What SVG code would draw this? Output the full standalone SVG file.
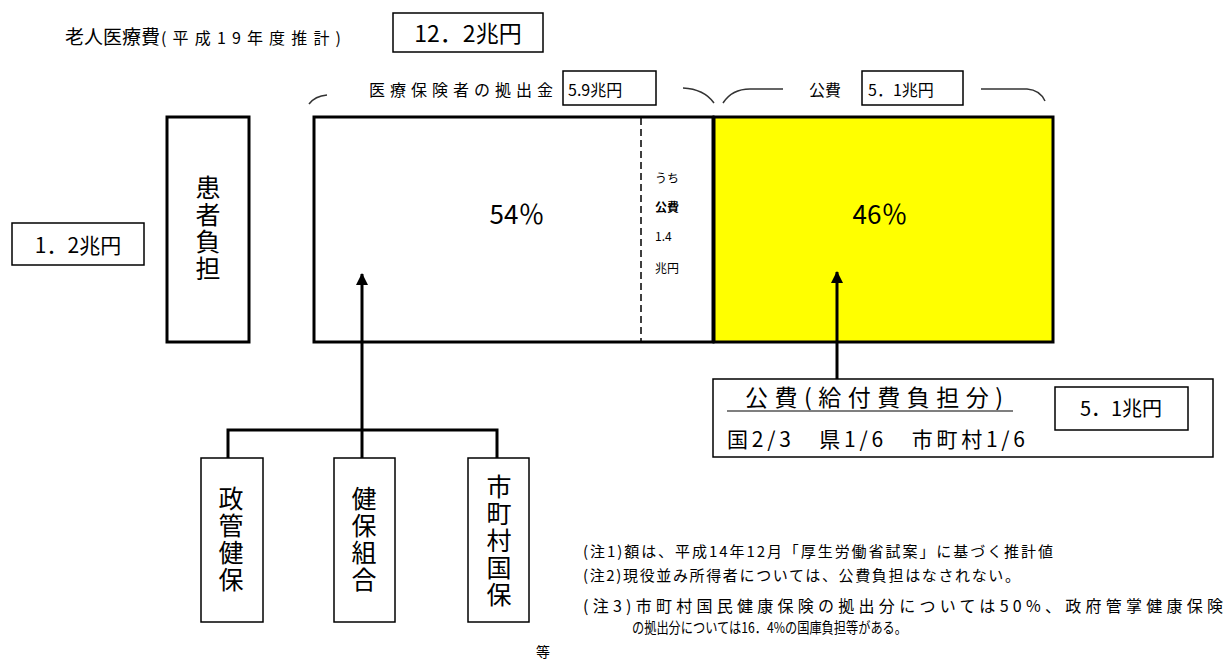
<svg xmlns="http://www.w3.org/2000/svg" width="1230" height="661" viewBox="0 0 1230 661">
<defs>
<style>
text{font-family:"Noto Sans CJK JP","Liberation Sans",sans-serif;fill:#000}
.box{fill:#fff;stroke:#000;stroke-width:1.5}
.thick{fill:#fff;stroke:#000;stroke-width:3}
.arc{fill:none;stroke:#333;stroke-width:1.5}
.conn{fill:none;stroke:#000;stroke-width:3}
.vt{font-size:25px;writing-mode:vertical-rl;letter-spacing:2px}
.note{font-size:15px}
</style>
<marker id="ah" markerWidth="12" markerHeight="12" refX="11" refY="6" orient="auto" markerUnits="userSpaceOnUse" viewBox="0 0 12 12">
<path d="M0,0 L12,6 L0,12 Z" fill="#000"/>
</marker>
</defs>
<rect width="1230" height="661" fill="#fff"/>

<g id="title">
<text x="65" y="44" font-size="19">老人医療費</text>
<text x="161" y="44" font-size="16" textLength="180">(平成19年度推計)</text>
</g>
<g id="total">
<rect class="box" x="393" y="13" width="150" height="39"/>
<text x="468" y="42" font-size="23" text-anchor="middle">12．2兆円</text>
</g>

<g id="brackets">
<path class="arc" d="M309,104 Q315,96 327,95"/>
<path class="arc" d="M683,88 Q704,89 714,103"/>
<path class="arc" d="M723,103 Q732,89 750,89 L783,89"/>
<path class="arc" d="M981,89 L1027,89 Q1040,90 1045,101"/>
</g>

<g id="insurer-label">
<text x="369" y="96" font-size="16" textLength="184">医療保険者の拠出金</text>
<rect class="box" x="563" y="71" width="93" height="34"/>
<text x="568" y="96" font-size="16">5.9兆円</text>
</g>
<g id="public-label">
<text x="809" y="96" font-size="16">公費</text>
<rect class="box" x="862" y="71" width="101" height="34"/>
<text x="868" y="96" font-size="16">5．1兆円</text>
</g>

<g id="patient">
<rect class="thick" x="167" y="117" width="82" height="225"/>
<text class="vt" x="208" y="175">患者負担</text>
</g>
<g id="patient-amount">
<rect class="box" x="12" y="223" width="132" height="42"/>
<text x="78" y="253" font-size="21" text-anchor="middle">1．2兆円</text>
</g>

<g id="insurer-part">
<rect class="thick" x="314" y="117" width="399" height="225"/>
<line x1="641" y1="118" x2="641" y2="341" stroke="#000" stroke-width="1.5" stroke-dasharray="7,4"/>
<text x="517" y="224" font-size="26" text-anchor="middle">54％</text>
<text x="655" y="183" font-size="12">うち</text>
<text x="655" y="212" font-size="12" font-weight="bold">公費</text>
<text x="655" y="241" font-size="12">1.4</text>
<text x="655" y="273" font-size="12">兆円</text>
</g>
<g id="public-part">
<rect x="714" y="117" width="339" height="225" fill="#ffff00" stroke="#000" stroke-width="3"/>
<text x="880" y="224" font-size="26" text-anchor="middle">46％</text>
</g>

<g id="connectors">
<line class="conn" x1="362" y1="430" x2="362" y2="274" marker-end="url(#ah)"/>
<polyline class="conn" points="228,458 228,430 497,430 497,458"/>
<line class="conn" x1="362" y1="430" x2="362" y2="458"/>
<line class="conn" x1="837" y1="379" x2="837" y2="272" marker-end="url(#ah)"/>
</g>

<g id="seikan">
<rect class="box" x="201" y="458" width="62" height="164"/>
<text class="vt" x="231" y="486">政管健保</text>
</g>
<g id="kenpo">
<rect class="box" x="334" y="458" width="61" height="164"/>
<text class="vt" x="364" y="486">健保組合</text>
</g>
<g id="kokuho">
<rect class="box" x="468" y="458" width="61" height="164"/>
<text class="vt" x="499" y="474">市町村国保</text>
</g>
<g id="etc">
<text x="543" y="657" font-size="14" text-anchor="middle">等</text>
</g>

<g id="public-detail">
<rect class="box" x="713" y="379" width="500" height="78"/>
<text x="745" y="406" font-size="23" textLength="258">公費(給付費負担分)</text>
<line x1="727" y1="411" x2="1013" y2="411" stroke="#000" stroke-width="1.2"/>
<text x="727" y="447" font-size="21" textLength="298">国2/3　県1/6　市町村1/6</text>
<rect class="box" x="1055" y="387" width="133" height="43"/>
<text x="1121" y="416" font-size="20" text-anchor="middle">5．1兆円</text>
</g>

<g id="notes">
<text class="note" x="583" y="557" textLength="470">(注1)額は、平成14年12月「厚生労働省試案」に基づく推計値</text>
<text class="note" x="583" y="581" textLength="437">(注2)現役並み所得者については、公費負担はなされない。</text>
<text x="583" y="612" font-size="16" textLength="640">(注3)市町村国民健康保険の拠出分については50%、政府管掌健康保険</text>
<text class="note" x="632" y="633" textLength="275" lengthAdjust="spacingAndGlyphs">の拠出分については16．4%の国庫負担等がある。</text>
</g>
</svg>
